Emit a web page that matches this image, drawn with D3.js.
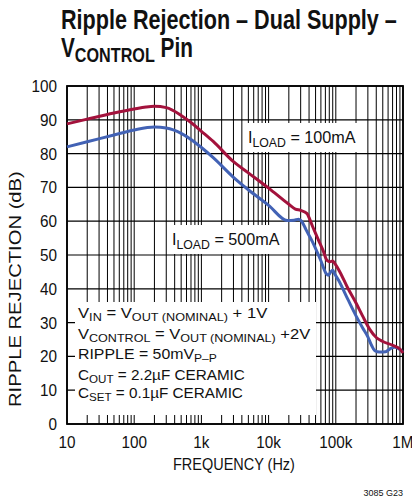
<!DOCTYPE html>
<html><head><meta charset="utf-8">
<script src="https://cdn.jsdelivr.net/npm/d3@7"></script>
<style>
html,body{margin:0;padding:0;background:#fff;}
svg{display:block;}
text{font-family:"Liberation Sans Narrow","Arial Narrow","Liberation Sans",Arial,sans-serif;fill:#111;}
</style></head>
<body>
<svg id="chart" width="412" height="497"></svg>
<script>
// ---- data ----
const freq100mA = [10,20,50,100,150,200,300,500,700,1000,1500,3000,5000,10000,20000,25000,30000,37000,45000,55000,65000,74000,82000,90000,98000,115000,150000,200000,250000,320000,400000,500000,700000,900000,1000000];
const rej100mA  = [88.8,90.2,92.0,93.2,93.8,94.0,93.6,91.3,89.2,86.6,83.6,77.6,74.3,69.8,65.0,63.6,63.2,62.3,58.5,54.5,51.2,48.4,48.0,48.2,47.3,45.0,40.3,35.8,32.0,28.0,25.6,24.4,23.3,22.2,21.0];
const freq500mA = [10,20,50,100,200,300,500,700,1000,1500,3000,5000,10000,19000,24000,28000,31000,36000,45000,60000,72000,78000,84000,90000,97000,110000,150000,200000,250000,300000,340000,380000,450000,550000,650000,750000,850000,1000000];
const rej500mA  = [82.0,83.5,85.5,87.0,87.9,87.6,86.0,84.2,81.8,78.8,73.0,69.3,64.7,60.2,60.3,60.6,60.0,57.5,53.9,48.3,44.5,44.0,45.0,45.5,44.3,42.5,37.0,32.0,28.5,25.8,23.3,21.7,21.3,21.4,22.3,22.7,22.4,21.3];
const xTickValues = [10,100,1000,10000,100000,1000000];
const xTickLabels = ["10","100","1k","10k","100k","1M"];
const yTickValues = [0,10,20,30,40,50,60,70,80,90,100];

const svg = d3.select("#chart");
const x = d3.scaleLog().domain([10,1e6]).range([67,403]);
const y = d3.scaleLinear().domain([0,100]).range([424,86]);

function fitW(sel, x0, w){
  const bb = sel.node().getBBox();
  const s = w/bb.width;
  sel.attr("transform", `translate(${x0},0) scale(${s},1) translate(${-x0},0)`);
}

// grid
const minor = [];
for(let d=10; d<1e6; d*=10){ for(let k=1;k<10;k++) minor.push(d*k); }
minor.push(1e6);
const g = svg.append("g");
g.selectAll("line.v").data(minor).enter().append("line")
  .attr("x1",d=>x(d)).attr("x2",d=>x(d)).attr("y1",y(0)).attr("y2",y(100))
  .attr("stroke","#000").attr("stroke-width",1);
g.selectAll("line.h").data(yTickValues).enter().append("line")
  .attr("x1",x(10)).attr("x2",x(1e6)).attr("y1",d=>y(d)).attr("y2",d=>y(d))
  .attr("stroke","#000").attr("stroke-width",1.2);

// white label boxes
svg.append("rect").attr("x",75).attr("y",302).attr("width",241).attr("height",113).attr("fill","#fff");
svg.append("rect").attr("x",245).attr("y",123).attr("width",113).attr("height",29).attr("fill","#fff");
svg.append("rect").attr("x",170).attr("y",225).attr("width",115).attr("height",29).attr("fill","#fff");

// frame
svg.append("rect").attr("x",x(10)).attr("y",y(100)).attr("width",x(1e6)-x(10)).attr("height",y(0)-y(100))
  .attr("fill","none").attr("stroke","#000").attr("stroke-width",1.8);

// curves
const line = d3.line().x(d=>x(d[0])).y(d=>y(d[1])).curve(d3.curveMonotoneX);
svg.append("path").datum(freq500mA.map((f,i)=>[f,rej500mA[i]]))
  .attr("d",line).attr("fill","none").attr("stroke","#4262b5").attr("stroke-width",3).attr("stroke-linejoin","round");
svg.append("path").datum(freq100mA.map((f,i)=>[f,rej100mA[i]]))
  .attr("d",line).attr("fill","none").attr("stroke","#a3123c").attr("stroke-width",3).attr("stroke-linejoin","round");

// y ticks
svg.selectAll("text.yt").data(yTickValues).enter().append("text")
  .attr("x",57).attr("y",d=>y(d)+6).attr("text-anchor","end")
  .style("font-size","17px")
  .attr("transform",d=>`translate(57,0) scale(0.9,1) translate(-57,0)`)
  .text(d=>d);
// x ticks
svg.selectAll("text.xt").data(xTickValues).enter().append("text")
  .attr("x",d=>x(d)).attr("y",448).attr("text-anchor","middle")
  .style("font-size","17px")
  .attr("transform",d=>`translate(${x(d)},0) scale(0.9,1) translate(${-x(d)},0)`)
  .text((d,i)=>xTickLabels[i]);

// axis titles
const xt = svg.append("text").attr("x",173).attr("y",470).style("font-size","16px").text("FREQUENCY (Hz)");
fitW(xt,173,122);
const ytg = svg.append("g").attr("transform","translate(21,289) rotate(-90)");
const yt = ytg.append("text").attr("x",-118).attr("y",0).style("font-size","16px").text("RIPPLE REJECTION (dB)");
fitW(yt,-118,236);

// title
const t1 = svg.append("text").attr("x",61).attr("y",29).style("font-size","27px").style("font-weight","bold")
  .text("Ripple Rejection – Dual Supply –");
fitW(t1,61,336);
const t2 = svg.append("text").attr("x",61).attr("y",57).style("font-size","27px").style("font-weight","bold");
t2.append("tspan").text("V");
t2.append("tspan").attr("dy",5).style("font-size","21px").text("CONTROL");
t2.append("tspan").attr("dy",-5).text(" Pin");
fitW(t2,61,132);

// curve labels
function subText(x0,yb,parts,size,w,off0){
  const off1 = off0 || 4;
  const t = svg.append("text").attr("x",x0).attr("y",yb).style("font-size",size+"px");
  let cur = 0;
  parts.forEach(p=>{
    const off = p[1]?off1:0;
    t.append("tspan").attr("dy",off-cur).style("font-size",(p[1]?size*0.76:size)+"px").text(p[0]);
    cur = off;
  });
  if(w) fitW(t,x0,w);
  return t;
}
subText(248,143,[["I",0],["LOAD",1],[" = 100mA",0]],16,108);
subText(172,245,[["I",0],["LOAD",1],[" = 500mA",0]],16,108);

// conditions
subText(78,318,[["V",0],["IN",1],[" = V",0],["OUT (NOMINAL)",1],[" + 1V",0]],15.5,190,3);
subText(78,339,[["V",0],["CONTROL",1],[" = V",0],["OUT (NOMINAL)",1],[" +2V",0]],15.5,233,3);
subText(78,359,[["RIPPLE = 50mV",0],["P–P",1]],15.5,139,3);
subText(78,380,[["C",0],["OUT",1],[" = 2.2µF CERAMIC",0]],15.5,167,3);
subText(78,398,[["C",0],["SET",1],[" = 0.1µF CERAMIC",0]],15.5,165,3);

svg.append("text").attr("x",403).attr("y",496).attr("text-anchor","end").style("font-size","9px").text("3085 G23");
</script>
</body></html>
